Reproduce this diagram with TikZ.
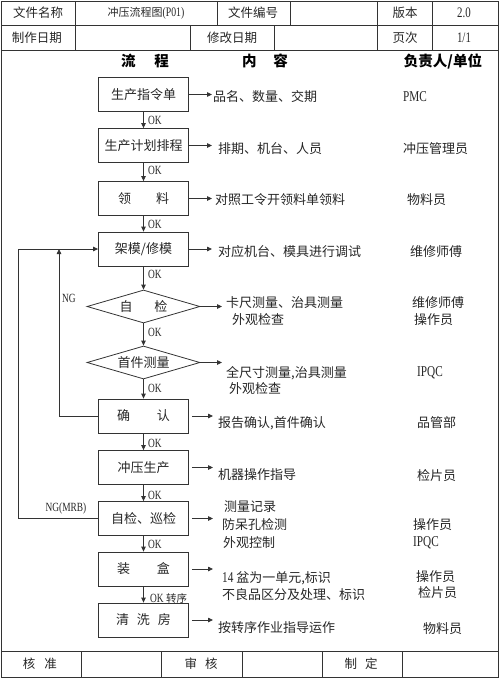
\documentclass[tikz,border=0pt]{standalone}
\usepackage{fontspec}
\setmainfont{Liberation Serif}
\newfontfamily\cjk{Noto Sans CJK SC}
\newfontfamily\lat{Liberation Serif}[FakeStretch=0.75]
\usetikzlibrary{arrows.meta,shapes.geometric}
\tikzset{
  ln/.style={draw=black!80,line width=0.8pt},
  arr/.style={ln,-{Triangle[length=5pt,width=4.5pt]}},
  fbox/.style={ln,minimum width=90pt,minimum height=34pt,inner sep=0pt,text=black!85,font=\cjk\fontsize{13}{15}\selectfont},
  fdia/.style={ln,diamond,aspect=3.4,inner sep=0pt,minimum width=113pt,minimum height=33pt,text=black!85,font=\cjk\fontsize{13}{15}\selectfont},
  txt/.style={anchor=west,inner sep=0pt,text=black!85,font=\cjk\fontsize{13}{15}\selectfont},
  lattxt/.style={anchor=west,inner sep=0pt,text=black!85,font=\lat\fontsize{15}{17}\selectfont},
  cell/.style={inner sep=0pt,text=black!85,font=\cjk\fontsize{12.5}{14}\selectfont},
  latcell/.style={inner sep=0pt,text=black!85,font=\lat\fontsize{14.5}{16}\selectfont},
  headcell/.style={inner sep=0pt,text=black,font=\cjk\bfseries\fontsize{14.5}{16}\selectfont},
  oklab/.style={anchor=west,inner sep=0pt,text=black!85,font=\lat\fontsize{12.5}{14}\selectfont},
}
\begin{document}
\begin{tikzpicture}[x=1pt,y=-1pt]
\useasboundingbox (0,0) rectangle (500,678);
% ---------- frame and table ----------
\draw[ln] (1,1) rectangle (498,677);
\draw[ln] (1,25) -- (498,25);
\draw[ln] (1,50) -- (498,50);
\draw[ln] (1,651) -- (498,651);
\foreach \x in {75,217,290,377,432} \draw[ln] (\x,1) -- (\x,25);
\foreach \x in {75,190,274,377,432} \draw[ln] (\x,25) -- (\x,50);
\foreach \x in {81,161,242,322,402} \draw[ln] (\x,651) -- (\x,677);
% header cells
\node[cell] (h1) at (38,13) {文件名称};
\node[cell,font=\cjk\fontsize{11}{13}\selectfont] (h2) at (146,13) {冲压流程图{\lat\fontsize{13}{15}\selectfont (P01)}};
\node[cell] (h3) at (253,13) {文件编号};
\node[cell] (h4) at (405,13) {版本};
\node[latcell] (h5) at (464,13) {2.0};
\node[cell] (r1) at (37,38) {制作日期};
\node[cell] (r2) at (232,38) {修改日期};
\node[cell] (r3) at (405,38) {页次};
\node[latcell] (r4) at (464,38) {1/1};
\node[headcell] (c1) at (145,61) {流\hspace{19pt}程};
\node[headcell] (c2) at (265,61) {内\hspace{17pt}容};
\node[headcell] (c3) at (443,61) {负责人/单位};
% footer cells
\node[cell] (f1) at (40,664) {核\hspace{9pt}准};
\node[cell] (f2) at (201,664) {审\hspace{8pt}核};
\node[cell] (f3) at (361,664) {制\hspace{8pt}定};
% ---------- flow ----------
\node[fbox] (b1) at (143.5,94.5) {生产指令单};
\node[fbox] (b2) at (143.5,145.5) {生产计划排程};
\node[fbox] (b3) at (143.5,198.5) {领\hspace{25pt}料};
\node[fbox] (b4) at (143.5,249) {架模/修模};
\node[fdia] (d1) at (143.5,306.5) {自\hspace{22pt}检};
\node[fdia] (d2) at (143.5,362.5) {首件测量};
\node[fbox] (b5) at (143.5,416) {确\hspace{27pt}认};
\node[fbox] (b6) at (143.5,467.5) {冲压生产};
\node[fbox] (b7) at (143.5,518.5) {自检、巡检};
\node[fbox] (b8) at (143.5,569) {装\hspace{27pt}盒};
\node[fbox] (b9) at (143.5,620) {清\hspace{8pt}洗\hspace{8pt}房};
% vertical arrows
\draw[arr] (b1.south) -- (b2.north);
\draw[arr] (b2.south) -- (b3.north);
\draw[arr] (b3.south) -- (b4.north);
\draw[arr] (b4.south) -- (d1.north);
\draw[arr] (d1.south) -- (d2.north);
\draw[arr] (d2.south) -- (b5.north);
\draw[arr] (b5.south) -- (b6.north);
\draw[arr] (b6.south) -- (b7.north);
\draw[arr] (b7.south) -- (b8.north);
\draw[arr] (b8.south) -- (b9.north);
% OK labels
\node[oklab] (k1) at (148,120) {OK};
\node[oklab] (k2) at (148,170) {OK};
\node[oklab] (k3) at (148,224) {OK};
\node[oklab] (k4) at (148,274) {OK};
\node[oklab] (k5) at (148,332) {OK};
\node[oklab] (k6) at (148,388) {OK};
\node[oklab] (k7) at (148,443) {OK};
\node[oklab] (k8) at (148,495) {OK};
\node[oklab] (k9) at (148,544) {OK};
\node[oklab] (k10) at (150,598) {OK {\cjk\fontsize{10.5}{12}\selectfont 转序}};
% feedback loops
\coordinate (n1) at (59,249);
\coordinate (n2) at (18,249);
\draw[arr] (b5.west) -| (n1);
\draw[arr] (b7.west) -| (n2) -- (b4.west);
\node[oklab,anchor=center] (ng1) at (69,298) {NG};
\node[oklab,anchor=center] (ng2) at (66,508) {NG(MRB)};
% right arrows
\coordinate (ax) at (212,0);
\coordinate (ay) at (213,0);
\coordinate (az) at (222,0);
\draw[arr] (b1.east) -- (b1.east -| ax);
\draw[arr] (b2.east) -- (b2.east -| ax);
\draw[arr] (b3.east) -- (b3.east -| ax);
\draw[arr] (b4.east) -- (b4.east -| ax);
\draw[arr] (d1.east) -- (d1.east -| az);
\draw[arr] (d2.east) -- (d2.east -| az);
\draw[arr] ([xshift=3pt]b5.east) -- (b5.east -| ay);
\draw[arr] ([xshift=3pt]b6.east) -- (b6.east -| ay);
\draw[arr] ([xshift=3pt]b7.east) -- (b7.east -| ay);
\draw[arr] ([xshift=3pt]b8.east) -- (b8.east -| ay);
\draw[arr] ([xshift=3pt]b9.east) -- (b9.east -| ay);
% content texts
\node[txt] (t1) at (213,97) {品名、数量、交期};
\node[txt] (t2) at (218,149) {排期、机台、人员};
\node[txt] (t3) at (215,200) {对照工令开领料单领料};
\node[txt] (t4) at (218,252) {对应机台、模具进行调试};
\node[txt] (t5a) at (226,303) {卡尺测量、治具测量};
\node[txt] (t5b) at (232,320) {外观检查};
\node[txt] (t6a) at (226,373) {全尺寸测量,治具测量};
\node[txt] (t6b) at (229,389) {外观检查};
\node[txt] (t7) at (218,423) {报告确认,首件确认};
\node[txt] (t8) at (218,475) {机器操作指导};
\node[txt] (t9a) at (224,507) {测量记录};
\node[txt] (t9b) at (222,525) {防呆孔检测};
\node[txt] (t9c) at (223,543) {外观控制};
\node[txt] (t10a) at (222,578) {{\lat\fontsize{15}{17}\selectfont 14 }盆为一单元,标识};
\node[txt] (t10b) at (222,595) {不良品区分及处理、标识};
\node[txt] (t11) at (218,628) {按转序作业指导运作};
% responsible
\node[lattxt] (p1) at (403,97) {PMC};
\node[txt] (p2) at (403,149) {冲压管理员};
\node[txt] (p3) at (407,200) {物料员};
\node[txt] (p4) at (410,252) {维修师傅};
\node[txt] (p5a) at (412,303) {维修师傅};
\node[txt] (p5b) at (414,320) {操作员};
\node[lattxt] (p6) at (417,373) {IPQC};
\node[txt] (p7) at (417,423) {品管部};
\node[txt] (p8) at (417,476) {检片员};
\node[txt] (p9a) at (413,525) {操作员};
\node[lattxt] (p9b) at (413,543) {IPQC};
\node[txt] (p10a) at (416,577) {操作员};
\node[txt] (p10b) at (418,593) {检片员};
\node[txt] (p11) at (423,629) {物料员};
\end{tikzpicture}
\end{document}
